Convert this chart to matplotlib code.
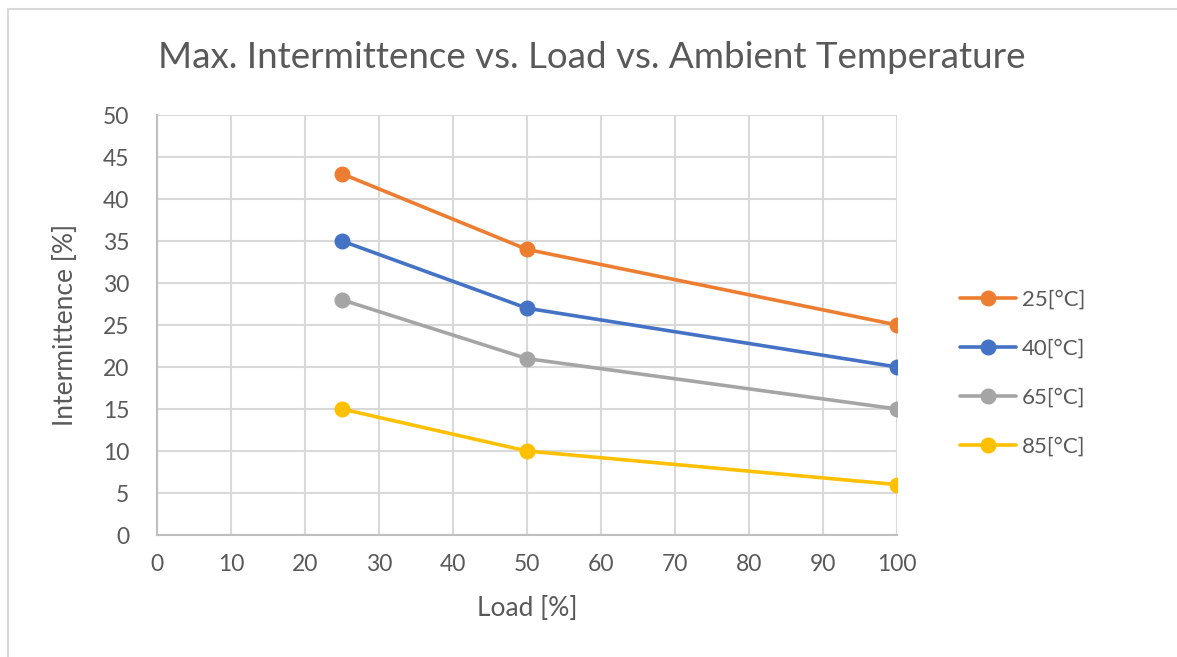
import matplotlib.pyplot as plt
from matplotlib.lines import Line2D

# dados
carga = [25, 50, 100]
temperaturas = ["25[°C]", "40[°C]", "65[°C]", "85[°C]"]
interm_25 = [43, 34, 25]
interm_40 = [35, 27, 20]
interm_65 = [28, 21, 15]
interm_85 = [15, 10, 6]
cores = ["#ED7D31", "#4472C4", "#A5A5A5", "#FFC000"]

xticks = list(range(0, 101, 10))
yticks = list(range(0, 51, 5))

plt.rcParams['font.family'] = ['Lato', 'DejaVu Sans']
texto = "#595959"

fig = plt.figure(figsize=(11.77, 6.57), dpi=100)
ax = fig.add_axes([157 / 1177, 1 - 535 / 657, 740 / 1177, 420 / 657])

series = [interm_25, interm_40, interm_65, interm_85]
for valores, cor, nome in zip(series, cores, temperaturas):
    ax.plot(carga, valores, color=cor, linewidth=2.6, marker='o', markersize=10.5,
            label=nome, solid_capstyle='round')

ax.set_xlim(0, 100)
ax.set_ylim(0, 50)
ax.set_xticks(xticks)
ax.set_yticks(yticks)
ax.grid(True, color="#D9D9D9", linewidth=1.5)
ax.set_axisbelow(True)
for lado in ['top', 'right']:
    ax.spines[lado].set_visible(False)
for lado in ['left', 'bottom']:
    ax.spines[lado].set_color("#BFBFBF")
    ax.spines[lado].set_linewidth(1.5)
ax.tick_params(length=0, labelsize=16.5, labelcolor=texto)
ax.tick_params(axis='y', pad=20)
ax.tick_params(axis='x', pad=14)

ax.set_xlabel("Load [%]", fontsize=19, color=texto, labelpad=15)
ax.set_ylabel("Intermittence [%]", fontsize=19, color=texto, labelpad=18)
fig.text(592 / 1177, 1 - 58 / 657, "Max. Intermittence vs. Load vs. Ambient Temperature",
         ha='center', va='center', fontsize=26.5, color=texto)

leg = ax.legend(loc='center left', bbox_to_anchor=(940 / 1177, 1 - 373 / 657),
                bbox_transform=fig.transFigure, frameon=False, fontsize=16,
                labelcolor=texto, handlelength=2.5, labelspacing=1.3, handletextpad=0.3)

# moldura externa do gráfico
fig.add_artist(Line2D([8 / 1177, 1], [1 - 9 / 657, 1 - 9 / 657], color="#D9D9D9", linewidth=1.5))
fig.add_artist(Line2D([8 / 1177, 8 / 1177], [0, 1 - 9 / 657], color="#D9D9D9", linewidth=1.5))

fig.savefig("out.png", dpi=100)
